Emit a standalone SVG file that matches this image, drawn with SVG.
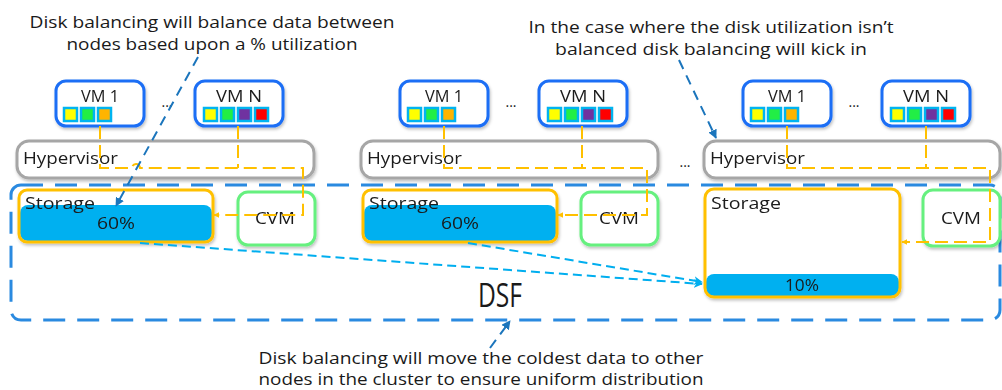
<svg xmlns="http://www.w3.org/2000/svg" width="1002" height="390" viewBox="0 0 1002 390">
<style>
text{font-family:"Open Sans","Liberation Sans",sans-serif;fill:#1a1a1a}
.vm{fill:#fff;stroke:#1a6ef5;stroke-width:3}
.hv{fill:#fff;stroke:#a6a6a6;stroke-width:3}
.st{fill:none;stroke:#ffc000;stroke-width:3}
.stbg{fill:#fff}
.bar{fill:#00b0f0}
.cvm{fill:#fff;stroke:#66f07f;stroke-width:3}
.sq{stroke:#00b4f0;stroke-width:2.5}
.y{fill:#ffff00}.g{fill:#22ee44}.o{fill:#ffb400}.p{fill:#7030a0}.r{fill:#ff0000}
.lbl{font-size:17px}
.ann{font-size:17px;text-anchor:middle}
.or{fill:none;stroke:#ffc000;stroke-width:2;stroke-dasharray:13 6}
.dk{fill:none;stroke:#1b75bc;stroke-width:2;stroke-dasharray:10 7}
.lb{fill:none;stroke:#00aeef;stroke-width:2;stroke-dasharray:9 5}
.dsf{fill:none;stroke:#2a8ae0;stroke-width:3;stroke-dasharray:22 12}
.sh{filter:url(#shadow)}
</style>
<defs>
<filter id="shadow" x="-10%" y="-10%" width="130%" height="140%">
<feDropShadow dx="1" dy="2" stdDeviation="1.5" flood-color="#000" flood-opacity="0.25"/>
</filter>
<marker id="aOr" viewBox="0 0 10 10" refX="9" refY="5" markerWidth="6" markerHeight="6" orient="auto" markerUnits="userSpaceOnUse">
<path d="M0,0 L10,5 L0,10 z" fill="#ffc000"/>
</marker>
<marker id="aDk" viewBox="0 0 10 10" refX="9" refY="5" markerWidth="9" markerHeight="9" orient="auto" markerUnits="userSpaceOnUse">
<path d="M0,0 L10,5 L0,10 z" fill="#1b75bc"/>
</marker>
<marker id="aLb" viewBox="0 0 10 10" refX="9" refY="5" markerWidth="9" markerHeight="9" orient="auto" markerUnits="userSpaceOnUse">
<path d="M0,0 L10,5 L0,10 L3,5 z" fill="#00aeef"/>
</marker>
</defs>

<g id="dsf">
<rect class="dsf" x="11" y="185" width="989" height="135" rx="10"/>
<text x="500" y="307" font-size="33" text-anchor="middle" textLength="44" lengthAdjust="spacingAndGlyphs">DSF</text>
</g>

<!-- Node 1 -->
<g id="vm1-a" class="sh">
<rect class="vm" x="56" y="81" width="88" height="45" rx="10"/>
<text class="lbl" x="100" y="102" text-anchor="middle" textLength="38" lengthAdjust="spacingAndGlyphs">VM 1</text>
<rect class="sq y" x="64" y="108" width="13" height="13"/>
<rect class="sq g" x="81" y="108" width="13" height="13"/>
<rect class="sq o" x="98" y="108" width="13" height="13"/>
</g>
<text x="167" y="107" font-size="14" text-anchor="middle">...</text>
<g id="vmn-a" class="sh">
<rect class="vm" x="195" y="81" width="88" height="45" rx="10"/>
<text class="lbl" x="239" y="102" text-anchor="middle" textLength="46" lengthAdjust="spacingAndGlyphs">VM N</text>
<rect class="sq y" x="204" y="108" width="13" height="13"/>
<rect class="sq g" x="221" y="108" width="13" height="13"/>
<rect class="sq p" x="238" y="108" width="13" height="13"/>
<rect class="sq r" x="255" y="108" width="13" height="13"/>
</g>
<g id="hyp-a" class="sh">
<rect class="hv" x="17" y="141" width="297" height="37" rx="12"/>
<text class="lbl" x="23" y="164" textLength="95" lengthAdjust="spacingAndGlyphs">Hypervisor</text>
</g>
<g id="stor-a" class="sh">
<rect class="stbg" x="19" y="190" width="194" height="52" rx="8"/>
<rect class="bar" x="20" y="205" width="192" height="36" rx="8"/>
<rect class="st" x="19" y="190" width="194" height="52" rx="8"/>
<text class="lbl" x="25" y="209" textLength="70" lengthAdjust="spacingAndGlyphs">Storage</text>
<text class="lbl" x="116" y="229" text-anchor="middle" textLength="38" lengthAdjust="spacingAndGlyphs">60%</text>
</g>
<g id="cvm-a" class="sh">
<rect class="cvm" x="238" y="192" width="77" height="53" rx="10"/>
<text class="lbl" x="275" y="224" text-anchor="middle" textLength="40" lengthAdjust="spacingAndGlyphs">CVM</text>
</g>

<!-- Node 2 -->
<g id="vm1-b" class="sh">
<rect class="vm" x="400" y="81" width="88" height="45" rx="10"/>
<text class="lbl" x="444" y="102" text-anchor="middle" textLength="38" lengthAdjust="spacingAndGlyphs">VM 1</text>
<rect class="sq y" x="408" y="108" width="13" height="13"/>
<rect class="sq g" x="425" y="108" width="13" height="13"/>
<rect class="sq o" x="442" y="108" width="13" height="13"/>
</g>
<text x="511" y="107" font-size="14" text-anchor="middle">...</text>
<g id="vmn-b" class="sh">
<rect class="vm" x="539" y="81" width="88" height="45" rx="10"/>
<text class="lbl" x="583" y="102" text-anchor="middle" textLength="46" lengthAdjust="spacingAndGlyphs">VM N</text>
<rect class="sq y" x="548" y="108" width="13" height="13"/>
<rect class="sq g" x="565" y="108" width="13" height="13"/>
<rect class="sq p" x="582" y="108" width="13" height="13"/>
<rect class="sq r" x="599" y="108" width="13" height="13"/>
</g>
<g id="hyp-b" class="sh">
<rect class="hv" x="361" y="141" width="297" height="37" rx="12"/>
<text class="lbl" x="367" y="164" textLength="95" lengthAdjust="spacingAndGlyphs">Hypervisor</text>
</g>
<g id="stor-b" class="sh">
<rect class="stbg" x="363" y="190" width="194" height="52" rx="8"/>
<rect class="bar" x="364" y="205" width="192" height="36" rx="8"/>
<rect class="st" x="363" y="190" width="194" height="52" rx="8"/>
<text class="lbl" x="369" y="209" textLength="70" lengthAdjust="spacingAndGlyphs">Storage</text>
<text class="lbl" x="460" y="229" text-anchor="middle" textLength="38" lengthAdjust="spacingAndGlyphs">60%</text>
</g>
<g id="cvm-b" class="sh">
<rect class="cvm" x="581" y="192" width="77" height="53" rx="10"/>
<text class="lbl" x="619" y="224" text-anchor="middle" textLength="40" lengthAdjust="spacingAndGlyphs">CVM</text>
</g>

<!-- Node 3 -->
<text x="685" y="167" font-size="14" text-anchor="middle">...</text>
<g id="vm1-c" class="sh">
<rect class="vm" x="743" y="81" width="88" height="45" rx="10"/>
<text class="lbl" x="787" y="102" text-anchor="middle" textLength="38" lengthAdjust="spacingAndGlyphs">VM 1</text>
<rect class="sq y" x="751" y="108" width="13" height="13"/>
<rect class="sq g" x="768" y="108" width="13" height="13"/>
<rect class="sq o" x="785" y="108" width="13" height="13"/>
</g>
<text x="854" y="107" font-size="14" text-anchor="middle">...</text>
<g id="vmn-c" class="sh">
<rect class="vm" x="882" y="81" width="88" height="45" rx="10"/>
<text class="lbl" x="926" y="102" text-anchor="middle" textLength="46" lengthAdjust="spacingAndGlyphs">VM N</text>
<rect class="sq y" x="891" y="108" width="13" height="13"/>
<rect class="sq g" x="908" y="108" width="13" height="13"/>
<rect class="sq p" x="925" y="108" width="13" height="13"/>
<rect class="sq r" x="942" y="108" width="13" height="13"/>
</g>
<g id="hyp-c" class="sh">
<rect class="hv" x="704" y="141" width="296" height="37" rx="12"/>
<text class="lbl" x="710" y="164" textLength="95" lengthAdjust="spacingAndGlyphs">Hypervisor</text>
</g>
<g id="stor-c" class="sh">
<rect class="stbg" x="705" y="189" width="195" height="108" rx="9"/>
<rect class="bar" x="706" y="274" width="193" height="22" rx="8"/>
<rect class="st" x="705" y="189" width="195" height="108" rx="9"/>
<text class="lbl" x="711" y="209" textLength="70" lengthAdjust="spacingAndGlyphs">Storage</text>
<text class="lbl" x="802" y="291" text-anchor="middle" textLength="34" lengthAdjust="spacingAndGlyphs">10%</text>
</g>
<g id="cvm-c" class="sh">
<rect class="cvm" x="923" y="190" width="77" height="56" rx="10"/>
<text class="lbl" x="961" y="224" text-anchor="middle" textLength="40" lengthAdjust="spacingAndGlyphs">CVM</text>
</g>

<!-- Annotations -->
<g id="note-top-left">
<text class="ann" x="212" y="28" textLength="365" lengthAdjust="spacingAndGlyphs">Disk balancing will balance data between</text>
<text class="ann" x="212" y="50" textLength="291" lengthAdjust="spacingAndGlyphs">nodes based upon a % utilization</text>
</g>
<g id="note-top-right">
<text class="ann" x="711" y="33" textLength="365" lengthAdjust="spacingAndGlyphs">In the case where the disk utilization isn’t</text>
<text class="ann" x="711" y="55" textLength="312" lengthAdjust="spacingAndGlyphs">balanced disk balancing will kick in</text>
</g>
<g id="note-bottom">
<text class="ann" x="481" y="364" textLength="445" lengthAdjust="spacingAndGlyphs">Disk balancing will move the coldest data to other</text>
<text class="ann" x="481" y="385" textLength="445" lengthAdjust="spacingAndGlyphs">nodes in the cluster to ensure uniform distribution</text>
</g>

<g id="connectors">
<!-- node 1 IO path -->
<path class="or" d="M100,126 V168 H132 A4,4 0 0 1 140,168 H303 V215 H214" marker-end="url(#aOr)"/>
<path class="or" d="M238,126 V168"/>
<!-- node 2 IO path -->
<path class="or" d="M444,126 V168 H647 V215 H558" marker-end="url(#aOr)"/>
<path class="or" d="M582,126 V168"/>
<!-- node 3 IO path -->
<path class="or" d="M787,126 V168 H990 V242 H902" marker-end="url(#aOr)"/>
<path class="or" d="M926,126 V168"/>
<!-- data movement -->
<path class="lb" d="M140,243 L702,284" marker-end="url(#aLb)"/>
<path class="lb" d="M468,243 L702,282" marker-end="url(#aLb)"/>
<!-- annotation pointers -->
<path class="dk" d="M198,57 L116,206" marker-end="url(#aDk)"/>
<path class="dk" d="M679,60 L716,138" marker-end="url(#aDk)"/>
<path class="dk" d="M490,348 L510,321" marker-end="url(#aDk)"/>
</g>
</svg>
